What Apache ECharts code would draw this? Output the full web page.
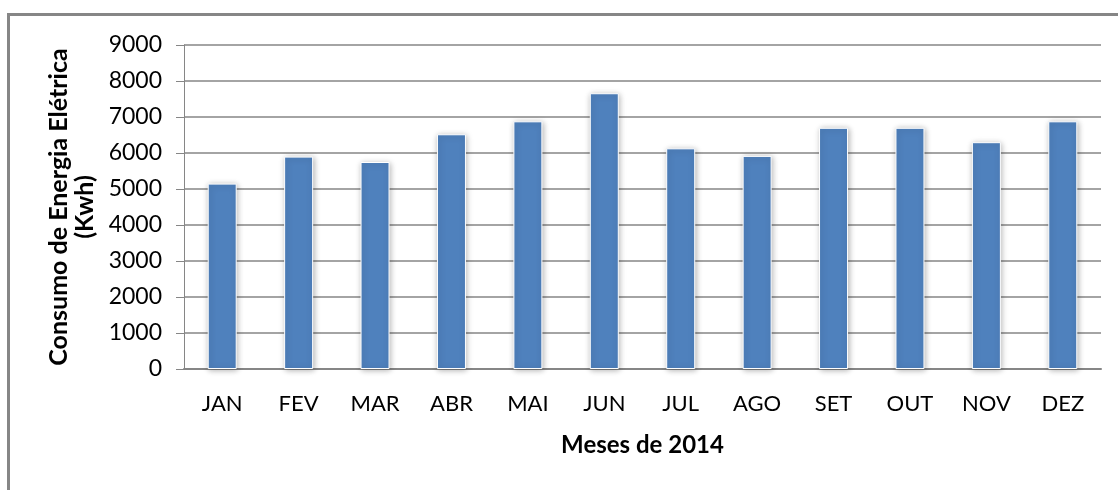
<!DOCTYPE html>
<html style="height: 100%">
<head>
    <meta charset="utf-8">
</head>
<body style="height: 100%; margin: 0; background-color: #fff;">
<div id="frame" style="position: absolute; left: 7px; top: 13px; right: 0; bottom: 0; border-left: 3px solid #868686; border-top: 3px solid #868686;"></div>
<div id="container" style="position: absolute; left: 0; top: 0; width: 1118px; height: 490px;"></div>
<script type="text/javascript" src="https://cdn.jsdelivr.net/npm/echarts@6/dist/echarts.min.js"></script>
<script type="text/javascript">
var months = ['JAN', 'FEV', 'MAR', 'ABR', 'MAI', 'JUN', 'JUL', 'AGO', 'SET', 'OUT', 'NOV', 'DEZ'];
var consumo = [5150, 5900, 5750, 6520, 6880, 7660, 6130, 5920, 6700, 6700, 6300, 6880];
var yTicks = [0, 1000, 2000, 3000, 4000, 5000, 6000, 7000, 8000, 9000];

var font = 'Lato, "Open Sans", sans-serif';
var grey = '#868686';

var chart = echarts.init(document.getElementById('container'));

chart.setOption({
    animation: false,
    grid: {
        left: 184,
        right: 17,
        top: 45,
        bottom: 121
    },
    xAxis: {
        type: 'category',
        data: months,
        name: 'Meses de 2014',
        nameLocation: 'middle',
        nameGap: 64,
        nameTextStyle: { fontFamily: font, fontSize: 24, fontWeight: 'bold', color: '#000' },
        axisLine: { lineStyle: { color: grey, width: 2 } },
        axisTick: { alignWithLabel: false, length: 10, lineStyle: { color: grey } },
        axisLabel: { fontFamily: font, fontSize: 22, color: '#000', margin: 24 }
    },
    yAxis: {
        type: 'value',
        min: yTicks[0],
        max: yTicks[yTicks.length - 1],
        interval: 1000,
        name: 'Consumo de Energia Elétrica\n(Kwh)',
        nameLocation: 'middle',
        nameGap: 81,
        nameTextStyle: { fontFamily: font, fontSize: 25, fontWeight: 'bold', color: '#000', lineHeight: 26 },
        axisLine: { show: true, lineStyle: { color: grey } },
        axisTick: { show: true, length: 8, lineStyle: { color: grey } },
        axisLabel: {
            fontFamily: font, fontSize: 23, color: '#000', margin: 22,
            formatter: function (v) { return String(v); }
        },
        splitLine: { lineStyle: { color: grey, width: 1.5 } }
    },
    series: [{
        type: 'bar',
        data: consumo,
        barWidth: 29,
        itemStyle: {
            color: '#4F81BD',
            borderColor: '#fff',
            borderWidth: 1,
            shadowBlur: 6,
            shadowColor: 'rgba(0,0,0,0.3)',
            shadowOffsetX: 1,
            shadowOffsetY: 1
        }
    }]
});
</script>
</body>
</html>
